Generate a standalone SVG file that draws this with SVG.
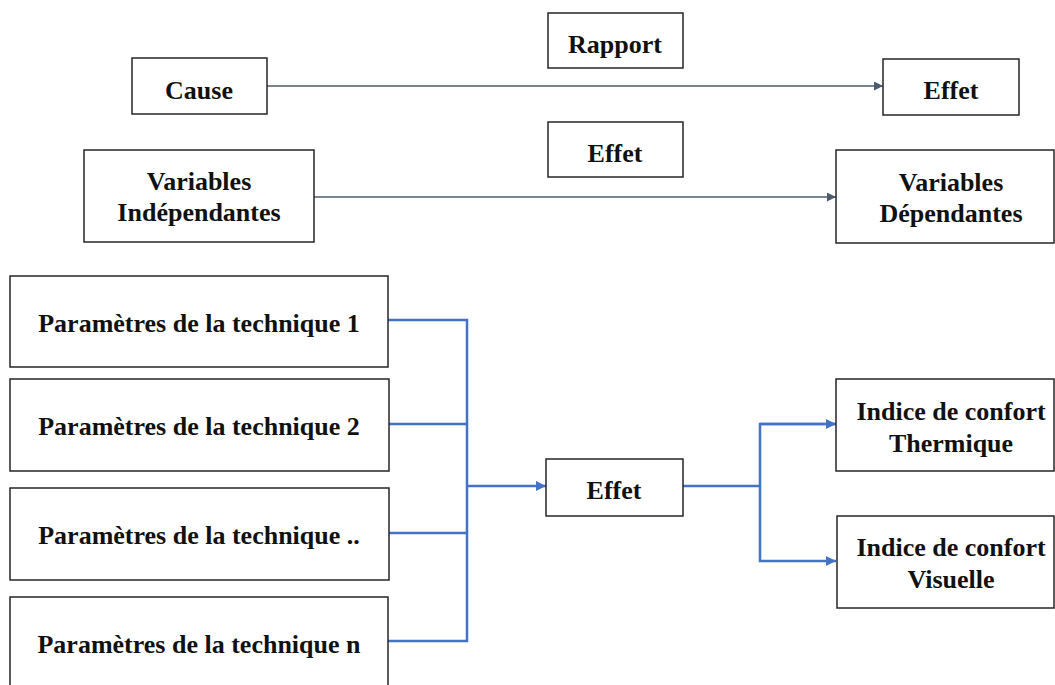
<svg xmlns="http://www.w3.org/2000/svg" width="1055" height="685" viewBox="0 0 1055 685">
  <style>
    .box { fill: #ffffff; stroke: #262626; stroke-width: 1.5; }
    .lbl { font-family: "Liberation Serif", "Times New Roman", serif; font-weight: bold; font-size: 26px; fill: #111111; text-anchor: middle; }
    .thin { fill: none; stroke: #4d5b70; stroke-width: 1.5; }
    .blue { fill: none; stroke: #4472c4; stroke-width: 2.5; }
  </style>
  <defs>
    <marker id="arrGrey" viewBox="0 0 10 10" refX="10" refY="5" markerWidth="11" markerHeight="9" markerUnits="userSpaceOnUse" orient="auto">
      <path d="M0,0 L10,5 L0,10 z" fill="#4d5b70"/>
    </marker>
    <marker id="arrBlue" viewBox="0 0 10 10" refX="10" refY="5" markerWidth="12" markerHeight="10" markerUnits="userSpaceOnUse" orient="auto">
      <path d="M0,0 L10,5 L0,10 z" fill="#4472c4"/>
    </marker>
  </defs>

  <!-- connectors -->
  <g id="connectors">
    <line class="thin" x1="267" y1="86" x2="883" y2="86" marker-end="url(#arrGrey)"/>
    <line class="thin" x1="314" y1="197" x2="836" y2="197" marker-end="url(#arrGrey)"/>
    <polyline class="blue" points="388,320 467,320 467,641 388,641"/>
    <line class="blue" x1="389" y1="424" x2="467" y2="424"/>
    <line class="blue" x1="389" y1="533" x2="467" y2="533"/>
    <line class="blue" x1="467" y1="486" x2="546" y2="486" marker-end="url(#arrBlue)"/>
    <line class="blue" x1="683" y1="486" x2="760" y2="486"/>
    <polyline class="blue" points="836,424 760,424 760,561 836,561" marker-end="url(#arrBlue)"/>
    <line class="blue" x1="760" y1="424" x2="836" y2="424" marker-end="url(#arrBlue)"/>
  </g>

  <!-- top row -->
  <g id="rapport">
    <rect class="box" x="548" y="13" width="135" height="55"/>
    <text class="lbl" x="615" y="53">Rapport</text>
  </g>
  <g id="cause">
    <rect class="box" x="132" y="58" width="135" height="56"/>
    <text class="lbl" x="199" y="99">Cause</text>
  </g>
  <g id="effet-top">
    <rect class="box" x="883" y="59" width="136" height="56"/>
    <text class="lbl" x="951" y="99">Effet</text>
  </g>

  <!-- second row -->
  <g id="effet-mid">
    <rect class="box" x="548" y="122" width="135" height="55"/>
    <text class="lbl" x="615" y="162">Effet</text>
  </g>
  <g id="var-indep">
    <rect class="box" x="84" y="150" width="230" height="92"/>
    <text class="lbl" x="199" y="190">Variables</text>
    <text class="lbl" x="199" y="221">Indépendantes</text>
  </g>
  <g id="var-dep">
    <rect class="box" x="836" y="150" width="218" height="93"/>
    <text class="lbl" x="951" y="191">Variables</text>
    <text class="lbl" x="951" y="222">Dépendantes</text>
  </g>

  <!-- techniques -->
  <g id="tech-1">
    <rect class="box" x="10" y="276" width="378" height="91"/>
    <text class="lbl" x="199" y="332">Paramètres de la technique 1</text>
  </g>
  <g id="tech-2">
    <rect class="box" x="10" y="379" width="379" height="92"/>
    <text class="lbl" x="199" y="435">Paramètres de la technique 2</text>
  </g>
  <g id="tech-3">
    <rect class="box" x="10" y="488" width="379" height="92"/>
    <text class="lbl" x="199" y="544">Paramètres de la technique ..</text>
  </g>
  <g id="tech-n">
    <rect class="box" x="10" y="597" width="378" height="100"/>
    <text class="lbl" x="199" y="653">Paramètres de la technique n</text>
  </g>

  <!-- effect and outcomes -->
  <g id="effet-bottom">
    <rect class="box" x="546" y="459" width="137" height="57"/>
    <text class="lbl" x="614" y="499">Effet</text>
  </g>
  <g id="confort-thermique">
    <rect class="box" x="836" y="379" width="218" height="92"/>
    <text class="lbl" x="951" y="420">Indice de confort</text>
    <text class="lbl" x="951" y="452">Thermique</text>
  </g>
  <g id="confort-visuelle">
    <rect class="box" x="837" y="516" width="217" height="92"/>
    <text class="lbl" x="951" y="556">Indice de confort</text>
    <text class="lbl" x="951" y="588">Visuelle</text>
  </g>
</svg>
